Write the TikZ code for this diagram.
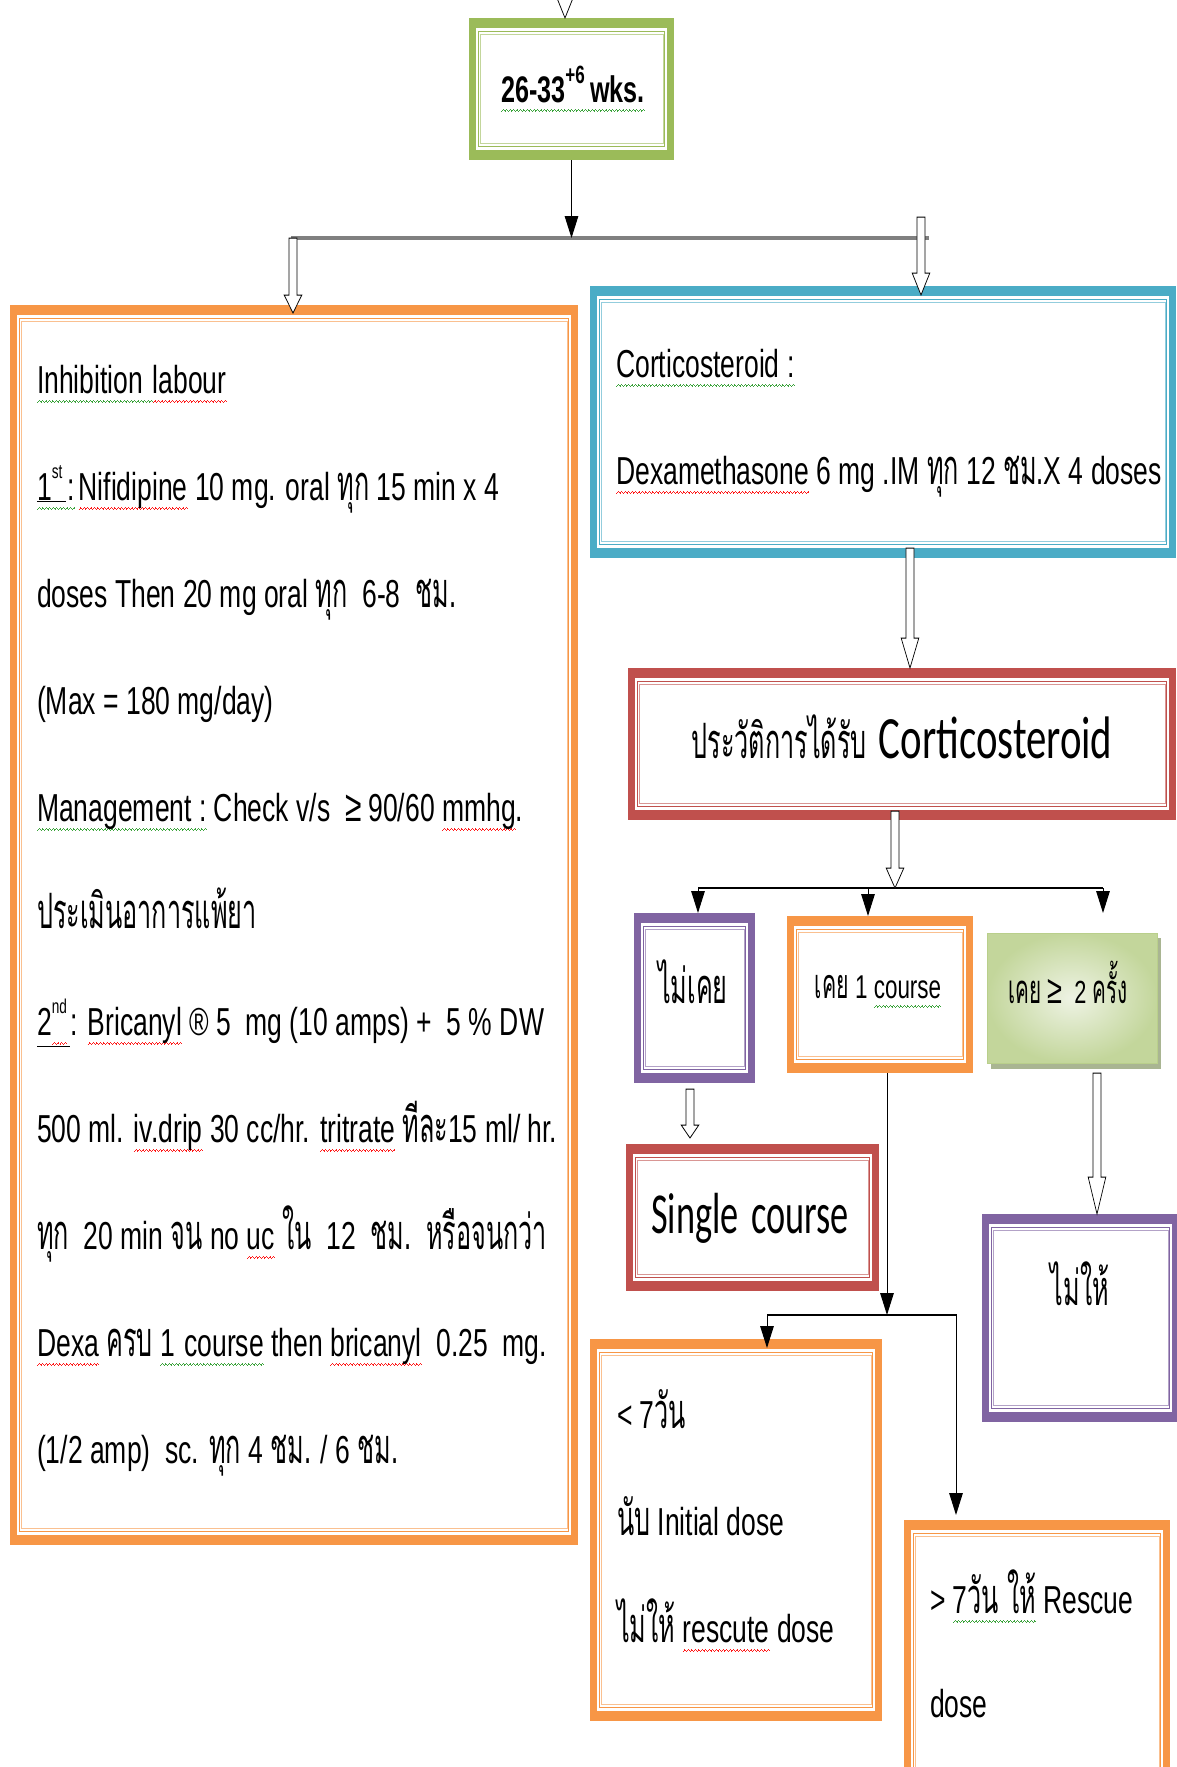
\documentclass[tikz,border=0pt]{standalone}
\usepackage{fontspec}
\setmainfont{Liberation Sans}
\newfontfamily\thai[Script=Thai,Scale=1.25,FakeStretch=0.76]{Loma}
\newfontfamily\calib{Carlito}
\usetikzlibrary{arrows.meta,fit,calc}

\definecolor{fOrange}{HTML}{F79646}
\definecolor{fBlue}{HTML}{4BACC6}
\definecolor{fRed}{HTML}{C0504D}
\definecolor{fPurple}{HTML}{8064A2}
\definecolor{fGreen}{HTML}{9BBB59}
\definecolor{sqGreen}{HTML}{3BA33B}
\definecolor{sqRed}{HTML}{FF1A1A}
\definecolor{gIn}{HTML}{EEF3E4}
\definecolor{gOut}{HTML}{C3D69B}
\definecolor{gEdge}{HTML}{B9CF8B}
\definecolor{gShadow}{HTML}{A9B592}
\definecolor{barGray}{HTML}{808080}

% wavy proofing underlines, built from a repeated little zigzag of rules
\newsavebox\sqgbox
\newsavebox\sqrbox
\newsavebox\sqtmp
\newcommand\wavecell{\rule[0pt]{1.25pt}{1pt}\rule[0.9pt]{1.25pt}{1pt}\rule[1.8pt]{1.25pt}{1pt}\rule[0.9pt]{1.25pt}{1pt}}
\newcommand\squig[2]{\setbox\sqtmp\hbox{#2}%
  \rlap{\raisebox{-10pt}{\hbox to \wd\sqtmp{\xleaders\copy#1\hfil}}}\box\sqtmp}
\newcommand\sqg[1]{\squig\sqgbox{#1}}
\newcommand\sqr[1]{\squig\sqrbox{#1}}

\newcommand\mainsz{\fontsize{39}{47}\selectfont}
\newcommand\tha[1]{{\thai #1}}
\newcommand\sups[3]{\raisebox{#2pt}{\fontsize{#1}{#1}\selectfont #3}}

\tikzset{
  boxframe/.style={draw=#1, line width=10pt, inner sep=-5pt, outer sep=5pt, rectangle},
  conn/.style={draw=black, line width=1.4pt, -{Triangle[length=22pt,width=20pt]}},
  wire/.style={draw=black, line width=1.4pt},
  bar/.style={draw=barGray, line width=3.5pt},
  hollow/.style={draw=black, line width=1pt, fill=white, to path={
      let \p1=(\tikztostart), \p2=(\tikztotarget) in
      (\x1-6pt,\y1) -- (\x1-6pt,\y2+#1) -- (\x1-13pt,\y2+#1) -- (\x1,\y2)
      -- (\x1+13pt,\y2+#1) -- (\x1+6pt,\y2+#1) -- (\x1+6pt,\y1) -- cycle}},
  hollow/.default=22pt,
  txt/.style={anchor=base west, inner sep=0pt, font=\mainsz},
  ctxt/.style={anchor=base, inner sep=0pt, font=\mainsz},
}

% framed box: thick band with a thin double rule inside
\newcommand\mkframe[4]{%
  \node[boxframe=#2, fit={(#3) (#4)}] (#1) {};
  \draw[#2, line width=1.6pt] ([shift={(13.5pt,-13.5pt)}]#1.north west) rectangle ([shift={(-13.5pt,13.5pt)}]#1.south east);
  \draw[#2!60!white, line width=0.9pt] ([shift={(16.3pt,-16.3pt)}]#1.north west) rectangle ([shift={(-16.3pt,16.3pt)}]#1.south east);
}

\begin{document}
\sbox\sqgbox{\textcolor{sqGreen}{\wavecell}}%
\sbox\sqrbox{\textcolor{sqRed}{\wavecell}}%
\begin{tikzpicture}[x=1pt,y=-1pt]
\useasboundingbox (0,0) rectangle (1176,1767);
\fill[white] (0,0) rectangle (1176,1767);
\begin{scope}[transform canvas={xscale=0.68}, x=1.470588pt]

% ---- boxes ----
\mkframe{wk}{fGreen}{469,18}{674,160}
\mkframe{inh}{fOrange}{10,305}{578,1545}
\mkframe{cort}{fBlue}{590,286}{1176,558}
\mkframe{hist}{fRed}{628,668}{1176,820}
\mkframe{nev}{fPurple}{634,913}{755,1083}
\mkframe{one}{fOrange}{787,916}{973,1073}
\fill[gShadow] (991,938) rectangle (1161,1069);
\node[fit={(987,933) (1157,1063)}, inner sep=0pt, outer sep=0pt, draw=gEdge, line width=1pt,
      inner color=gIn, outer color=gOut] (two) {};
\mkframe{sing}{fRed}{626,1144}{879,1291}
\mkframe{nog}{fPurple}{982,1214}{1179,1422}
\mkframe{lt7}{fOrange}{590,1339}{882,1721}
\mkframe{gt7}{fOrange}{904,1520}{1170,1800}

% ---- connectors ----
\coordinate (topin) at (565,-40);
\draw[hollow=22pt] (topin) to (wk.north -| topin);

\coordinate (jC) at (573,238);
\coordinate (jL) at (291,238);
\coordinate (jR) at (929,238);
\draw[bar] (jL) -- (jR);
\draw[conn] (wk.south) -- (wk.south |- jC);

\coordinate (xl) at (293,0);
\draw[hollow=18pt] (jL -| xl) to ($(inh.north -| xl)+(0,8)$);
\coordinate (xr) at (921,217);
\draw[hollow=22pt] (xr) to ($(cort.north -| xr)+(0,9)$);

\coordinate (xb) at (910,0);
\draw[hollow=30pt] ($(cort.south -| xb)+(0,-10)$) to (hist.north -| xb);

\coordinate (xh) at (895,0);
\coordinate (jM) at (895,888);
\coordinate (jM1) at (698,888);
\coordinate (jM2) at (868,888);
\coordinate (jM3) at (1103,888);
\draw[wire] (jM1) -- (jM3);
\draw[hollow=20pt] ($(hist.south -| xh)+(0,-9)$) to (jM);
\draw[conn] (jM1) -- (nev.north -| jM1);
\draw[conn] (jM2) -- (one.north -| jM2);
\draw[conn] (jM3) -- (jM3 |- nev.north);

\coordinate (xn) at (690,0);
\draw[hollow=13pt] ($(nev.south -| xn)+(0,6)$) to ($(sing.north -| xn)+(0,-6)$);

\coordinate (xo) at (887,0);
\coordinate (jB) at (887,1315);
\coordinate (xlt) at (767,0);
\coordinate (xgt) at (956,0);
\draw[conn] (one.south -| xo) -- (jB);
\draw[conn] (jB) -| ($(lt7.north -| xlt)+(0,9)$);
\draw[conn] (jB) -| ($(gt7.north -| xgt)+(0,-5)$);

\coordinate (xg) at (1097,0);
\draw[hollow=37pt] ($(two.south -| xg)+(0,10)$) to (nog.north -| xg);

% ---- texts ----
\node[ctxt, font=\fontsize{37}{40}\selectfont\bfseries] (w1) at (573,102)
  {\sqg{26-33\sups{25}{19}{+6}\hspace{8pt}wks.}};

\node[txt] (i1) at (37,393) {\sqg{Inhibition\hspace{14pt}}\sqr{labour}};
\node[txt] (i2) at (37,500) {\sqg{\underline{1\sups{20}{22}{st}\hspace{5pt}}\hspace{3pt}:}\hspace{5pt}\sqr{Nifidipine} 10 mg. oral \tha{ทุก} 15 min x 4};
\node[txt] (i3) at (37,607) {doses Then 20 mg oral \tha{ทุก}\ \ 6-8\ \ \tha{ชม.}};
\node[txt] (i4) at (37,714) {(Max = 180 mg/day)};
\node[txt] (i5) at (37,821) {\sqg{Management :} Check v/s\ \ {\fontsize{44}{44}\selectfont ≥}\hspace{10pt}90/60 \sqr{mmhg}.};
\node[txt] (i6) at (37,928) {\tha{ประเมินอาการแพ้ยา}};
\node[txt] (i7) at (37,1035) {\underline{2\sqr{\sups{20}{22}{nd}}\hspace{5pt}}: \sqr{Bricanyl} ® 5\ \ mg (10 amps) +\ \ 5 \% DW};
\node[txt] (i8) at (37,1142) {500 ml. \sqr{iv.drip} 30 cc/hr. \sqr{tritrate} \tha{ทีละ}15 ml/ hr.};
\node[txt] (i9) at (37,1249) {\tha{ทุก}\ \ 20 min \tha{จน} no \sqr{uc} \tha{ใน}\ \ 12\ \ \tha{ชม.}\ \ \tha{หรือจนกว่า}};
\node[txt] (i10) at (37,1356) {\sqr{Dexa} \tha{ครบ} \sqg{1\hspace{14pt}course} then \sqr{bricanyl}\ \ 0.25\ \ mg.};
\node[txt] (i11) at (37,1463) {(1/2 amp)\ \ sc. \tha{ทุก} 4 \tha{ชม.} / 6 \tha{ชม.}};

\node[txt] (c1) at (616,377) {\sqg{Corticosteroid :}};
\node[txt] (c2) at (616,484) {\sqr{Dexamethasone} 6 mg .IM \tha{ทุก} 12 \tha{ชม.}X 4 doses};

\node[ctxt] (h1) at (902,758) {\tha{ประวัติการได้รับ}\hspace{18pt}{\calib\fontsize{60}{60}\selectfont Corticosteroid}};

\node[ctxt] (n1) at (693,1003) {\tha{ไม่เคย}};
\node[ctxt, font=\fontsize{33}{40}\selectfont] (o1) at (878,998) {\tha{เคย} 1 \sqg{course}};
\node[ctxt, font=\fontsize{32}{38}\selectfont] (t1) at (1068,1003) {\tha{เคย} {\fontsize{40}{40}\selectfont ≥}\ \ 2 \tha{ครั้ง}};
\node[ctxt, font=\calib\fontsize{58}{60}\selectfont] (s1) at (750,1233) {\scalebox{0.92}[1]{Single\hspace{20pt}course}};
\node[ctxt] (g1) at (1080,1305) {\tha{ไม่ให้}};

\node[txt] (a1) at (617,1428) {< 7\tha{วัน}};
\node[txt] (a2) at (617,1535) {\tha{นับ} Initial dose};
\node[txt] (a3) at (617,1642) {\tha{ไม่ให้} \sqr{rescute} dose};
\node[txt] (b1) at (930,1613) {> \sqg{7\tha{วัน}\hspace{12pt}\tha{ให้}} Rescue};
\node[txt] (b2) at (930,1717) {dose};

\end{scope}
\end{tikzpicture}
\end{document}
